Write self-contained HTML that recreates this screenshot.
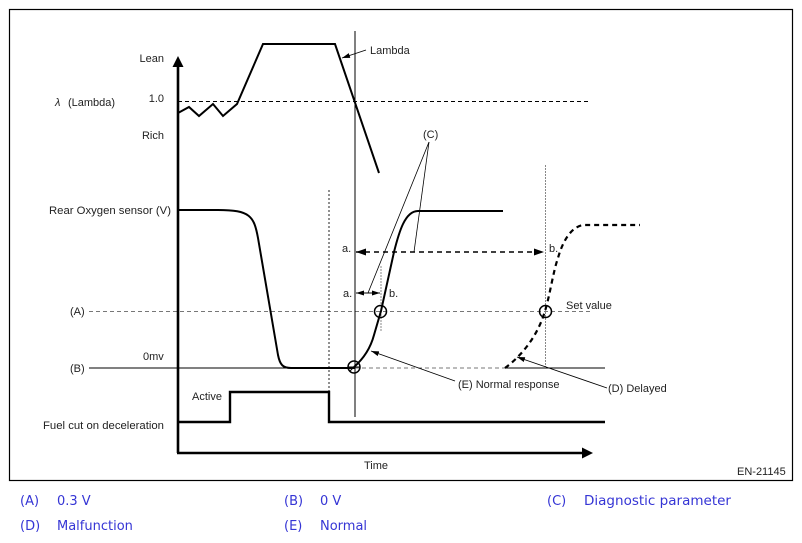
<!DOCTYPE html>
<html><head><meta charset="utf-8"><style>
html,body{margin:0;padding:0;background:#fff;}
svg{display:block;}
.t{font-family:"Liberation Sans",Arial,sans-serif;font-size:11px;fill:#222;}
.lg{font-family:"DejaVu Sans","Liberation Sans",sans-serif;font-size:13px;fill:#3535d5;}
</style></head><body>
<svg width="802" height="543" viewBox="0 0 802 543" xmlns="http://www.w3.org/2000/svg">
<defs>
<marker id="ah" viewBox="0 0 10 7" refX="10" refY="3.5" markerWidth="10" markerHeight="7" markerUnits="userSpaceOnUse" orient="auto-start-reverse"><path d="M0,0 L10,3.5 L0,7 z" fill="#000"/></marker>
<marker id="as" viewBox="0 0 8 5" refX="8" refY="2.5" markerWidth="8" markerHeight="5" markerUnits="userSpaceOnUse" orient="auto-start-reverse"><path d="M0,0 L8,2.5 L0,5 z" fill="#000"/></marker>
</defs>
<rect x="9.5" y="9.5" width="783" height="471" fill="none" stroke="#000" stroke-width="1.2"/>

<!-- lambda dashed 1.0 -->
<line x1="178" y1="101.5" x2="590" y2="101.5" stroke="#000" stroke-width="1" stroke-dasharray="4,3"/>
<!-- A dashed -->
<line x1="89" y1="311.5" x2="590" y2="311.5" stroke="#777" stroke-width="1" stroke-dasharray="4,3"/>
<!-- B line -->
<line x1="89" y1="368" x2="355" y2="368" stroke="#000" stroke-width="1"/>
<line x1="355" y1="368" x2="505" y2="368" stroke="#777" stroke-width="1" stroke-dasharray="4,3"/>
<line x1="505" y1="368" x2="605" y2="368" stroke="#000" stroke-width="1"/>

<!-- vertical lines -->
<line x1="355" y1="31" x2="355" y2="417" stroke="#000" stroke-width="1"/>
<line x1="329" y1="190" x2="329" y2="392" stroke="#222" stroke-width="1" stroke-dasharray="2,2"/>
<line x1="545.5" y1="165" x2="545.5" y2="368" stroke="#888" stroke-width="1" stroke-dasharray="2,1"/>
<line x1="381" y1="266" x2="381" y2="332" stroke="#888" stroke-width="1" stroke-dasharray="2,1"/>

<!-- axes -->
<line x1="178" y1="66" x2="178" y2="453" stroke="#000" stroke-width="2.6"/>
<polygon points="178,56 172.5,67 183.5,67" fill="#000"/>
<line x1="177" y1="453" x2="583" y2="453" stroke="#000" stroke-width="2.6"/>
<polygon points="593,453 582,447.5 582,458.5" fill="#000"/>

<!-- lambda curve -->
<polyline points="178,113 189,107 199,116 213,104 223,116 237,104 263,44 335,44 379,173" fill="none" stroke="#000" stroke-width="2" stroke-linejoin="miter"/>

<!-- rear O2 curve -->
<path d="M178,210 L218,210 C250,210 254,216 258,238 L278,355 C280,365 283,368 291,368 L355,368" fill="none" stroke="#000" stroke-width="2"/>

<!-- fuel cut -->
<polyline points="178,422 230,422 230,392 329,392 329,422 605,422" fill="none" stroke="#000" stroke-width="2.4"/>

<!-- normal response -->
<path d="M354,367 C362,360 370,350 374,335 L381,311 L394,252 C399,232 405,211 418,211 L503,211" fill="none" stroke="#000" stroke-width="2"/>

<!-- delayed -->
<path d="M505,368 C520,357 537,338 545,311 C550,295 553,272 558,258 C563,240 572,226 584,225 L640,225" fill="none" stroke="#000" stroke-width="2.2" stroke-dasharray="5,4"/>

<!-- circles -->
<circle cx="354" cy="367" r="6" fill="none" stroke="#000" stroke-width="1.5"/>
<line x1="348" y1="367" x2="360" y2="367" stroke="#000" stroke-width="1"/>
<line x1="350" y1="371" x2="358" y2="363" stroke="#000" stroke-width="1"/>
<circle cx="380.5" cy="311.5" r="6" fill="none" stroke="#000" stroke-width="1.5"/>
<circle cx="545.5" cy="311.5" r="6" fill="none" stroke="#000" stroke-width="1.5"/>

<!-- a-b arrows -->
<line x1="356" y1="252" x2="544" y2="252" stroke="#000" stroke-width="1.4" stroke-dasharray="5,4" marker-start="url(#ah)" marker-end="url(#ah)"/>
<line x1="356" y1="293" x2="380" y2="293" stroke="#000" stroke-width="1" marker-start="url(#as)" marker-end="url(#as)"/>

<!-- C leader lines -->
<line x1="429" y1="142" x2="368" y2="293" stroke="#000" stroke-width="0.8"/>
<line x1="429" y1="142" x2="414" y2="252" stroke="#000" stroke-width="0.8"/>

<!-- annotation arrows -->
<line x1="366" y1="50" x2="342" y2="58" stroke="#000" stroke-width="0.9" marker-end="url(#as)"/>
<line x1="455" y1="381" x2="371" y2="351" stroke="#000" stroke-width="0.9" marker-end="url(#as)"/>
<line x1="607" y1="388" x2="517" y2="357" stroke="#000" stroke-width="0.9" marker-end="url(#as)"/>

<!-- labels -->
<text class="t" x="164" y="62" text-anchor="end">Lean</text>
<text class="t" x="164" y="102" text-anchor="end">1.0</text>
<text class="t" x="55" y="106" font-style="italic">λ</text>
<text class="t" x="68" y="106">(Lambda)</text>
<text class="t" x="164" y="139" text-anchor="end">Rich</text>
<text class="t" x="49" y="214" textLength="122" lengthAdjust="spacingAndGlyphs">Rear Oxygen sensor (V)</text>
<text class="t" x="70" y="315">(A)</text>
<text class="t" x="70" y="372">(B)</text>
<text class="t" x="143" y="360">0mv</text>
<text class="t" x="192" y="400">Active</text>
<text class="t" x="43" y="429" textLength="121" lengthAdjust="spacingAndGlyphs">Fuel cut on deceleration</text>
<text class="t" x="364" y="469">Time</text>
<text class="t" x="737" y="475">EN-21145</text>
<text class="t" x="370" y="54">Lambda</text>
<text class="t" x="423" y="138">(C)</text>
<text class="t" x="342" y="252">a.</text>
<text class="t" x="549" y="252">b.</text>
<text class="t" x="343" y="297">a.</text>
<text class="t" x="389" y="297">b.</text>
<text class="t" x="566" y="309">Set value</text>
<text class="t" x="458" y="388">(E) Normal response</text>
<text class="t" x="608" y="392">(D) Delayed</text>

<!-- legend -->
<text class="lg" x="20" y="505">(A)</text>
<text class="lg" x="57" y="505">0.3 V</text>
<text class="lg" x="284" y="505">(B)</text>
<text class="lg" x="320" y="505">0 V</text>
<text class="lg" x="547" y="505">(C)</text>
<text class="lg" x="584" y="505" textLength="147" lengthAdjust="spacingAndGlyphs">Diagnostic parameter</text>
<text class="lg" x="20" y="530">(D)</text>
<text class="lg" x="57" y="530">Malfunction</text>
<text class="lg" x="284" y="530">(E)</text>
<text class="lg" x="320" y="530">Normal</text>
</svg>
</body></html>
